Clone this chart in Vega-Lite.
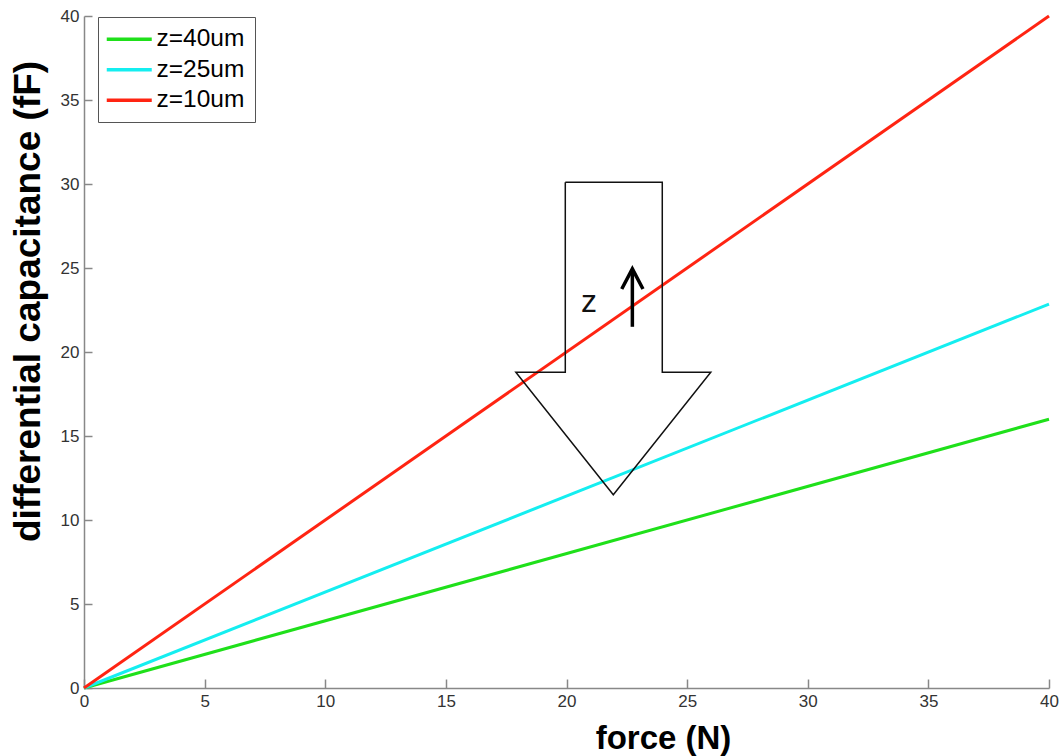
{
  "$schema": "https://vega.github.io/schema/vega-lite/v6.json",
  "width": 965,
  "height": 672,
  "autosize": "none",
  "padding": {"left": 84, "top": 16, "right": 15, "bottom": 68},
  "background": "white",
  "config": {"view": {"stroke": null}, "font": "Liberation Sans"},
  "datasets": {
    "curves": [
      {"force": 0, "cap": 0, "series": "z=40um"},
      {"force": 40, "cap": 16.0, "series": "z=40um"},
      {"force": 0, "cap": 0, "series": "z=25um"},
      {"force": 40, "cap": 22.85, "series": "z=25um"},
      {"force": 0, "cap": 0, "series": "z=10um"},
      {"force": 40, "cap": 40.0, "series": "z=10um"}
    ],
    "bigArrow": [
      {"i": 1, "force": 19.95, "cap": 30.1},
      {"i": 2, "force": 23.97, "cap": 30.1},
      {"i": 3, "force": 23.97, "cap": 18.8},
      {"i": 4, "force": 25.98, "cap": 18.8},
      {"i": 5, "force": 21.94, "cap": 11.5},
      {"i": 6, "force": 17.9, "cap": 18.8},
      {"i": 7, "force": 19.95, "cap": 18.8},
      {"i": 8, "force": 19.95, "cap": 30.1}
    ],
    "smallArrow": [
      {"part": "shaft", "i": 1, "force": 22.73, "cap": 21.5},
      {"part": "shaft", "i": 2, "force": 22.73, "cap": 24.85},
      {"part": "head", "i": 1, "force": 22.29, "cap": 23.75},
      {"part": "head", "i": 2, "force": 22.73, "cap": 24.95},
      {"part": "head", "i": 3, "force": 23.17, "cap": 23.75}
    ],
    "labels": [
      {"force": 20.93, "cap": 23.0, "text": "z"}
    ]
  },
  "encoding": {
    "x": {
      "field": "force",
      "type": "quantitative",
      "scale": {"domain": [0, 40], "nice": false, "zero": false},
      "axis": {
        "title": "force (N)",
        "values": [0, 5, 10, 15, 20, 25, 30, 35, 40],
        "grid": false,
        "labelFlush": false,
        "labelOverlap": false,
        "labelFontSize": 17,
        "labelColor": "#333",
        "labelPadding": 14,
        "tickSize": -9,
        "tickColor": "#888",
        "tickWidth": 1.5,
        "domainColor": "#888",
        "domainWidth": 1.5,
        "titleFontSize": 33,
        "titleFontWeight": "bold",
        "titleColor": "#000",
        "titleX": 579,
        "titleY": 50,
        "titleBaseline": "middle",
        "titleAlign": "center"
      }
    },
    "y": {
      "field": "cap",
      "type": "quantitative",
      "scale": {"domain": [0, 40], "nice": false, "zero": false},
      "axis": {
        "title": "differential capacitance (fF)",
        "values": [0, 5, 10, 15, 20, 25, 30, 35, 40],
        "grid": false,
        "labelFlush": false,
        "labelOverlap": false,
        "labelFontSize": 17,
        "labelColor": "#333",
        "labelPadding": 13,
        "tickSize": -8,
        "tickColor": "#888",
        "tickWidth": 1.5,
        "domainColor": "#888",
        "domainWidth": 1.5,
        "titleFontSize": 37,
        "titleFontWeight": "bold",
        "titleColor": "#000",
        "titleAngle": -90,
        "titleX": -56,
        "titleY": 285,
        "titleBaseline": "middle",
        "titleAlign": "center"
      }
    }
  },
  "layer": [
    {
      "data": {"name": "curves"},
      "mark": {"type": "line", "strokeWidth": 3},
      "encoding": {
        "color": {
          "field": "series",
          "type": "nominal",
          "scale": {"domain": ["z=40um", "z=25um", "z=10um"], "range": ["#1fe01a", "#14eef0", "#ff2412"]},
          "legend": {
            "title": null,
            "orient": "none",
            "legendX": 14,
            "legendY": 1,
            "symbolType": "M-3,0H3",
            "symbolSize": 225,
            "symbolStrokeWidth": 3.5,
            "symbolOffset": 9,
            "labelFontSize": 24.5,
            "labelColor": "#000",
            "labelFont": "Liberation Sans",
            "labelOffset": 15,
            "padding": 10,
            "rowPadding": 5.5,
            "strokeColor": "#555",
            "fillColor": "white"
          }
        }
      }
    },
    {
      "data": {"name": "bigArrow"},
      "mark": {"type": "line", "stroke": "#111", "strokeWidth": 1.5, "strokeJoin": "miter"},
      "encoding": {"order": {"field": "i", "type": "quantitative"}}
    },
    {
      "data": {"name": "smallArrow"},
      "mark": {"type": "line", "stroke": "#000", "strokeWidth": 3.5, "strokeJoin": "miter"},
      "encoding": {
        "detail": {"field": "part", "type": "nominal"},
        "order": {"field": "i", "type": "quantitative"}
      }
    },
    {
      "data": {"name": "labels"},
      "mark": {"type": "text", "fontSize": 32, "font": "Liberation Sans", "color": "#111", "align": "center", "baseline": "middle"},
      "encoding": {"text": {"field": "text", "type": "nominal"}}
    }
  ]
}
